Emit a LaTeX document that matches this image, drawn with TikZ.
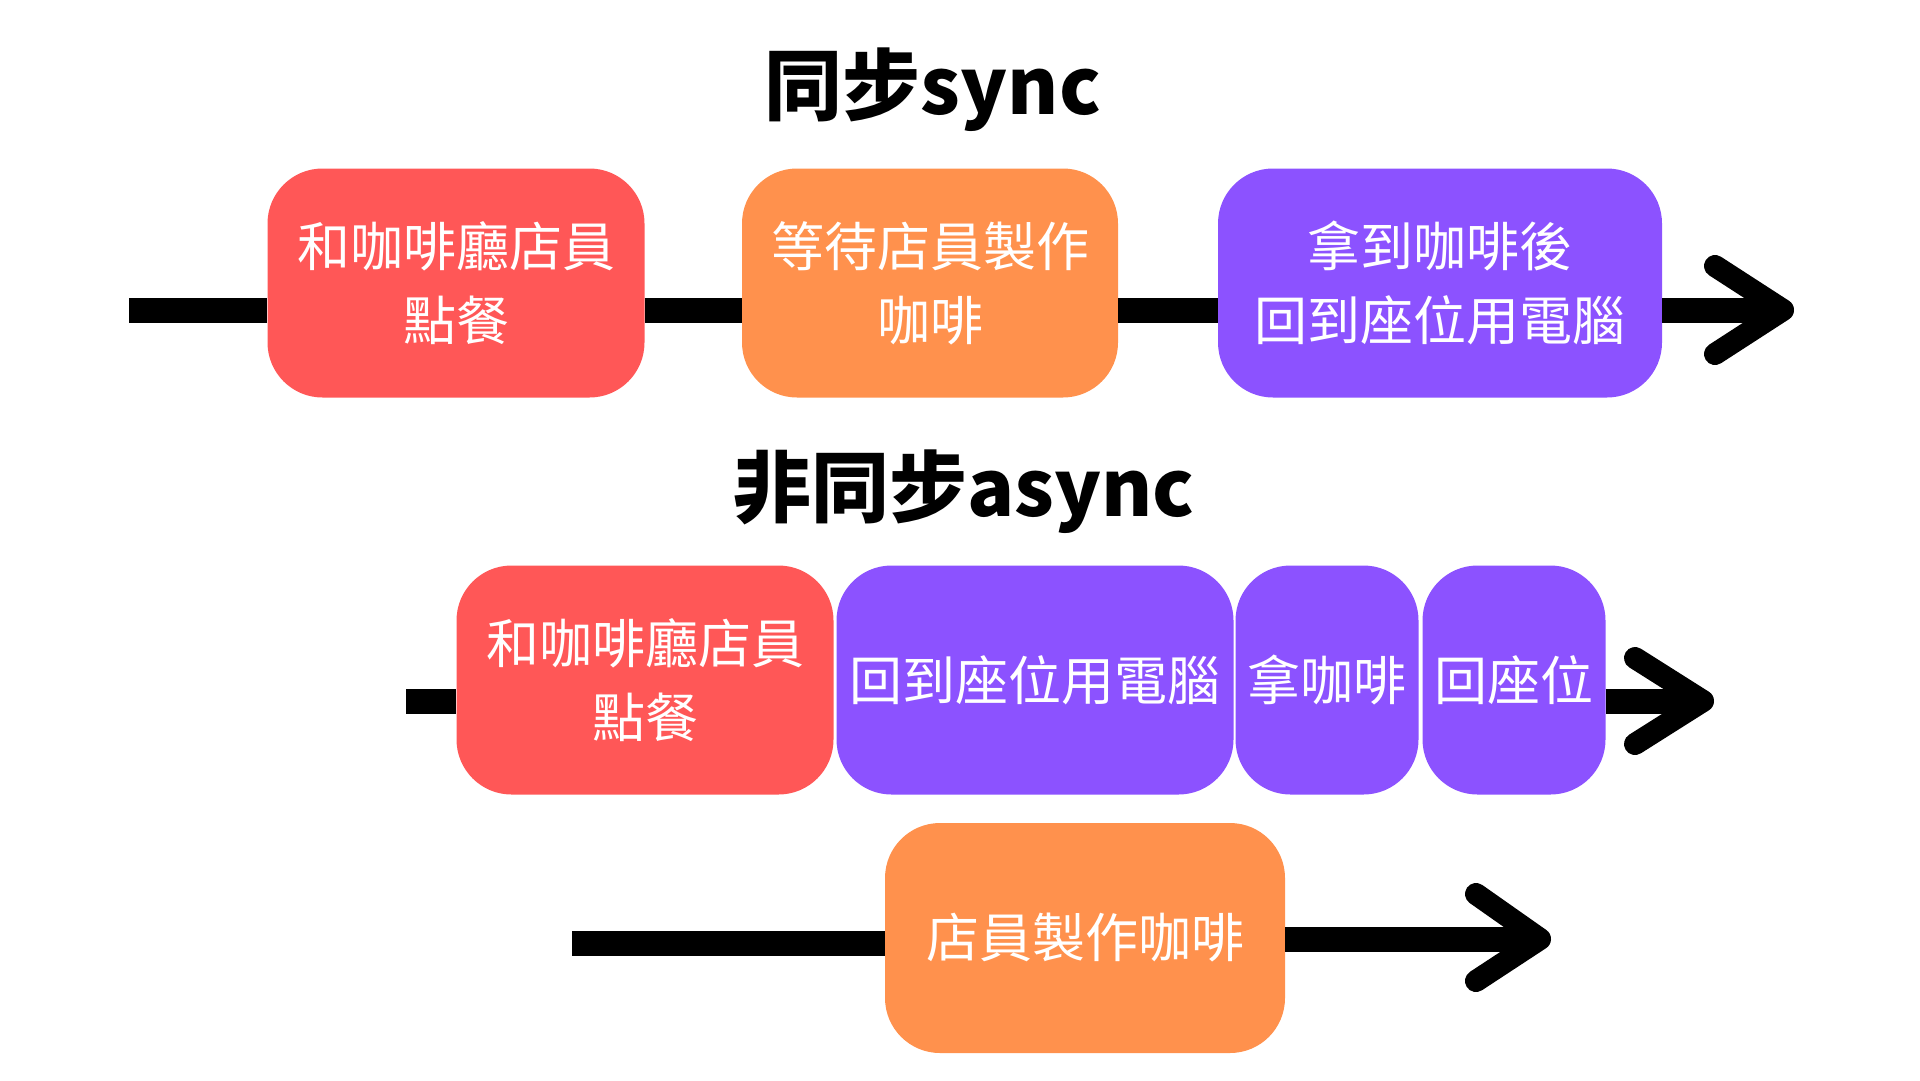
\documentclass[tikz,border=0pt]{standalone}
\usepackage{fontspec}
\usepackage{tikz}
\newfontfamily\cjk{Noto Sans CJK TC}
\definecolor{cred}{HTML}{FF5757}
\definecolor{corange}{HTML}{FF914D}
\definecolor{cpurple}{HTML}{8C52FF}
\tikzset{
  stepbox/.style={fill=#1, rounded corners=55pt, inner sep=0pt, minimum height=229pt,
    text=white, align=center, font=\cjk\fontsize{53}{74}\selectfont},
  title/.style={font=\cjk\bfseries\fontsize{78}{90}\selectfont, text=black},
  flow/.style={line width=25pt, black},
  head/.style={line width=22pt, black, line cap=round, line join=round}
}
\begin{document}
\begin{tikzpicture}[x=1pt,y=-1pt]
\useasboundingbox (0,0) rectangle (1920,1080);
% sync
\node (sync) [title] at (933,90) {同步sync};
\coordinate (s1) at (129,310);
\coordinate (e1) at (1783,310);
\node (order1) [stepbox=cred, minimum width=377pt] at (456,283) {和咖啡廳店員\\點餐};
\node (wait1) [stepbox=corange, minimum width=376pt] at (930,283) {等待店員製作\\咖啡};
\node (back1) [stepbox=cpurple, minimum width=444pt] at (1440,283) {拿到咖啡後\\回到座位用電腦};
\draw [flow] (s1) -- (s1 -| order1.west);
\draw [flow] (order1.east |- s1) -- (s1 -| wait1.west);
\draw [flow] (wait1.east |- s1) -- (s1 -| back1.west);
\draw [flow] (back1.east |- s1) -- (e1);
\draw [head] (e1) ++(-68,-44) -- (e1) -- ++(-68,44);
% async
\node (async) [title] at (964,492) {非同步async};
\coordinate (s2) at (406,701);
\coordinate (e2) at (1703,701);
\node (order2) [stepbox=cred, minimum width=377pt] at (645,680) {和咖啡廳店員\\點餐};
\node (pc2) [stepbox=cpurple, minimum width=397pt] at (1035,680) {回到座位用電腦};
\node (take2) [stepbox=cpurple, minimum width=183pt] at (1327,680) {拿咖啡};
\node (seat2) [stepbox=cpurple, minimum width=183pt] at (1514,680) {回座位};
\draw [flow] (s2) -- (s2 -| order2.west);
\draw [flow] (seat2.east |- s2) -- (e2);
\draw [head] (e2) ++(-68,-43) -- (e2) -- ++(-68,43);
% clerk
\coordinate (s3) at (572,943);
\coordinate (e3) at (1540,939);
\node (make3) [stepbox=corange, minimum width=400pt, minimum height=230pt] at (1085,938) {店員製作咖啡};
\draw [flow] (s3) -- (s3 -| make3.west);
\draw [flow] (make3.east |- e3) -- (e3);
\draw [head] (e3) ++(-64,-45) -- (e3) -- ++(-64,42);
\end{tikzpicture}
\end{document}
